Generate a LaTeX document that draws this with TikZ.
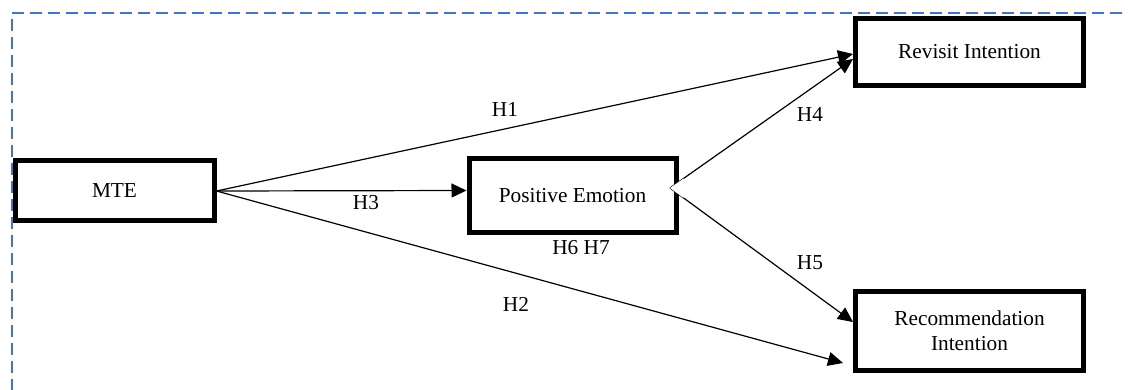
\documentclass[tikz,border=0pt]{standalone}
\usepackage{fontspec}
\setmainfont{Liberation Serif}
\usetikzlibrary{arrows.meta,calc}
\begin{document}
\begin{tikzpicture}[x=1pt,y=-1pt,
  box/.style={draw=black,line width=5pt,fill=white,inner sep=0pt,align=center,
    font=\fontsize{21.3}{25}\selectfont},
  conn/.style={draw=black,line width=1.2pt,-{Triangle[length=15pt,width=14pt]}},
  lab/.style={font=\fontsize{21.3}{25}\selectfont,inner sep=0pt}]
\useasboundingbox (0,0) rectangle (1128,389);
\fill[white] (0,0) rectangle (1128,389);
\draw[color={rgb,255:red,68;green,114;blue,196},line width=1.6pt,dash pattern=on 12pt off 6pt]
  (1140,13) -- (12,13) -- (12,400);
\node[box,minimum width=199pt,minimum height=60pt] (mte) at (114.5,190.5) {MTE};
\node[box,minimum width=207pt,minimum height=74pt] (pe) at (572.5,195.5) {Positive Emotion};
\node[box,minimum width=228pt,minimum height=67pt] (rev) at (969.5,52) {Revisit Intention};
\node[box,minimum width=228pt,minimum height=79pt] (rec) at (969.5,331) {Recommendation\\Intention};
\coordinate (m) at ($(mte.east)+(0,0.5)$);
\coordinate (p) at (670,188);
\coordinate (pin) at ($(pe.west)+(0,-5)$);
\coordinate (r1) at ($(rev.west)+(0,2)$);
\coordinate (r2) at ($(rev.west)+(0,7)$);
\coordinate (c1) at ($(rec.west)+(0,-9)$);
\coordinate (c2) at (843,363);
\draw[conn] (m) -- (r1);
\draw[conn] (m) -- (pin);
\draw[conn] (m) -- (c2);
\draw[conn] (p) -- (r2);
\draw[conn] (p) -- (c1);
\fill[white] (p) -- ($(p)!0.075!(r2)$) -- ($(p)!0.075!(c1)$) -- cycle;
\node[lab] (h1) at (505,109) {H1};
\node[lab] (h3) at (366,203) {H3};
\node[lab] (h67) at (581,248) {H6 H7};
\node[lab] (h2) at (516,304) {H2};
\node[lab] (h4) at (810,114) {H4};
\node[lab] (h5) at (810,263) {H5};
\end{tikzpicture}
\end{document}
